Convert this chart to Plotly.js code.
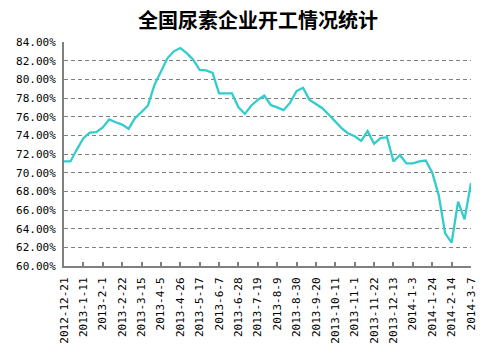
<!DOCTYPE html>
<html>
<head>
<meta charset="utf-8">
<script src="https://cdn.plot.ly/plotly-3.0.1.min.js"></script>
<style>html,body{margin:0;padding:0;background:#fff;}#chart{width:503px;height:351px;}</style>
</head>
<body>
<div id="chart"></div>
<script>
var chartTitle = '全国尿素企业开工情况统计';

var dates = [
  '2012-12-21','2012-12-28','2013-1-4','2013-1-11','2013-1-18','2013-1-25','2013-2-1','2013-2-8',
  '2013-2-15','2013-2-22','2013-3-1','2013-3-8','2013-3-15','2013-3-22','2013-3-29','2013-4-5',
  '2013-4-12','2013-4-19','2013-4-26','2013-5-3','2013-5-10','2013-5-17','2013-5-24','2013-5-31',
  '2013-6-7','2013-6-14','2013-6-21','2013-6-28','2013-7-5','2013-7-12','2013-7-19','2013-7-26',
  '2013-8-2','2013-8-9','2013-8-16','2013-8-23','2013-8-30','2013-9-6','2013-9-13','2013-9-20',
  '2013-9-27','2013-10-4','2013-10-11','2013-10-18','2013-10-25','2013-11-1','2013-11-8','2013-11-15',
  '2013-11-22','2013-11-29','2013-12-6','2013-12-13','2013-12-20','2013-12-27','2014-1-3','2014-1-10',
  '2014-1-17','2014-1-24','2014-1-31','2014-2-7','2014-2-14','2014-2-21','2014-2-28','2014-3-7'
];

var operatingRate = [
  71.2, 71.2, 72.5, 73.7, 74.3, 74.35, 74.85, 75.7,
  75.4, 75.15, 74.7, 75.85, 76.5, 77.2, 79.4, 80.85,
  82.25, 83.0, 83.35, 82.8, 82.1, 81.0, 80.95, 80.7,
  78.5, 78.5, 78.5, 77.0, 76.3, 77.2, 77.8, 78.25,
  77.25, 77.0, 76.7, 77.5, 78.75, 79.1, 77.8, 77.35,
  76.9, 76.2, 75.45, 74.75, 74.2, 73.9, 73.4, 74.45,
  73.1, 73.7, 73.8, 71.2, 71.9, 71.0, 71.0, 71.2,
  71.3, 70.0, 67.6, 63.5, 62.5, 66.9, 65.0, 68.9
];

var xTickLabels = [
  '2012-12-21','2013-1-11','2013-2-1','2013-2-22','2013-3-15','2013-4-5','2013-4-26','2013-5-17',
  '2013-6-7','2013-6-28','2013-7-19','2013-8-9','2013-8-30','2013-9-20','2013-10-11','2013-11-1',
  '2013-11-22','2013-12-13','2014-1-3','2014-1-24','2014-2-14','2014-3-7'
];

var yTickValues = [60, 62, 64, 66, 68, 70, 72, 74, 76, 78, 80, 82, 84];

var monoFont = {family: '"DejaVu Sans Mono", "Liberation Mono", monospace', size: 11, color: '#000'};

var trace = {
  type: 'scatter',
  mode: 'lines',
  x: dates,
  y: operatingRate,
  line: {color: '#33CCCC', width: 2.3},
  hoverinfo: 'x+y'
};

var layout = {
  width: 503,
  height: 351,
  paper_bgcolor: '#ffffff',
  plot_bgcolor: '#ffffff',
  margin: {l: 64, r: 32, t: 42, b: 85},
  showlegend: false,
  title: {
    text: '<b>' + chartTitle + '</b>',
    font: {family: '"Noto Sans CJK SC", sans-serif', size: 20, color: '#000'},
    x: 0.513, xref: 'container', xanchor: 'center',
    y: 0.94, yref: 'container', yanchor: 'middle'
  },
  xaxis: {
    type: 'category',
    categoryorder: 'array',
    categoryarray: dates,
    range: [0, dates.length - 1],
    tickmode: 'array',
    tickvals: xTickLabels,
    ticktext: xTickLabels,
    tickangle: -90,
    tickfont: monoFont,
    ticklabelstandoff: 5,
    ticks: 'inside',
    ticklen: 4,
    tickwidth: 2,
    tickcolor: '#808080',
    showline: true,
    linecolor: '#808080',
    linewidth: 2,
    showgrid: false,
    zeroline: false,
    fixedrange: true
  },
  yaxis: {
    range: [60, 84],
    tickmode: 'array',
    tickvals: yTickValues,
    ticktext: yTickValues.map(function (v) { return v.toFixed(2) + '%'; }),
    tickfont: monoFont,
    ticklabelstandoff: 4,
    ticks: 'inside',
    ticklen: 4,
    tickwidth: 1,
    tickcolor: '#808080',
    showline: true,
    linecolor: '#808080',
    linewidth: 2,
    showgrid: true,
    gridcolor: '#808080',
    gridwidth: 1,
    griddash: '4px,3px',
    zeroline: false,
    fixedrange: true
  }
};

Plotly.newPlot('chart', [trace], layout, {displayModeBar: false, staticPlot: true});
</script>
</body>
</html>
